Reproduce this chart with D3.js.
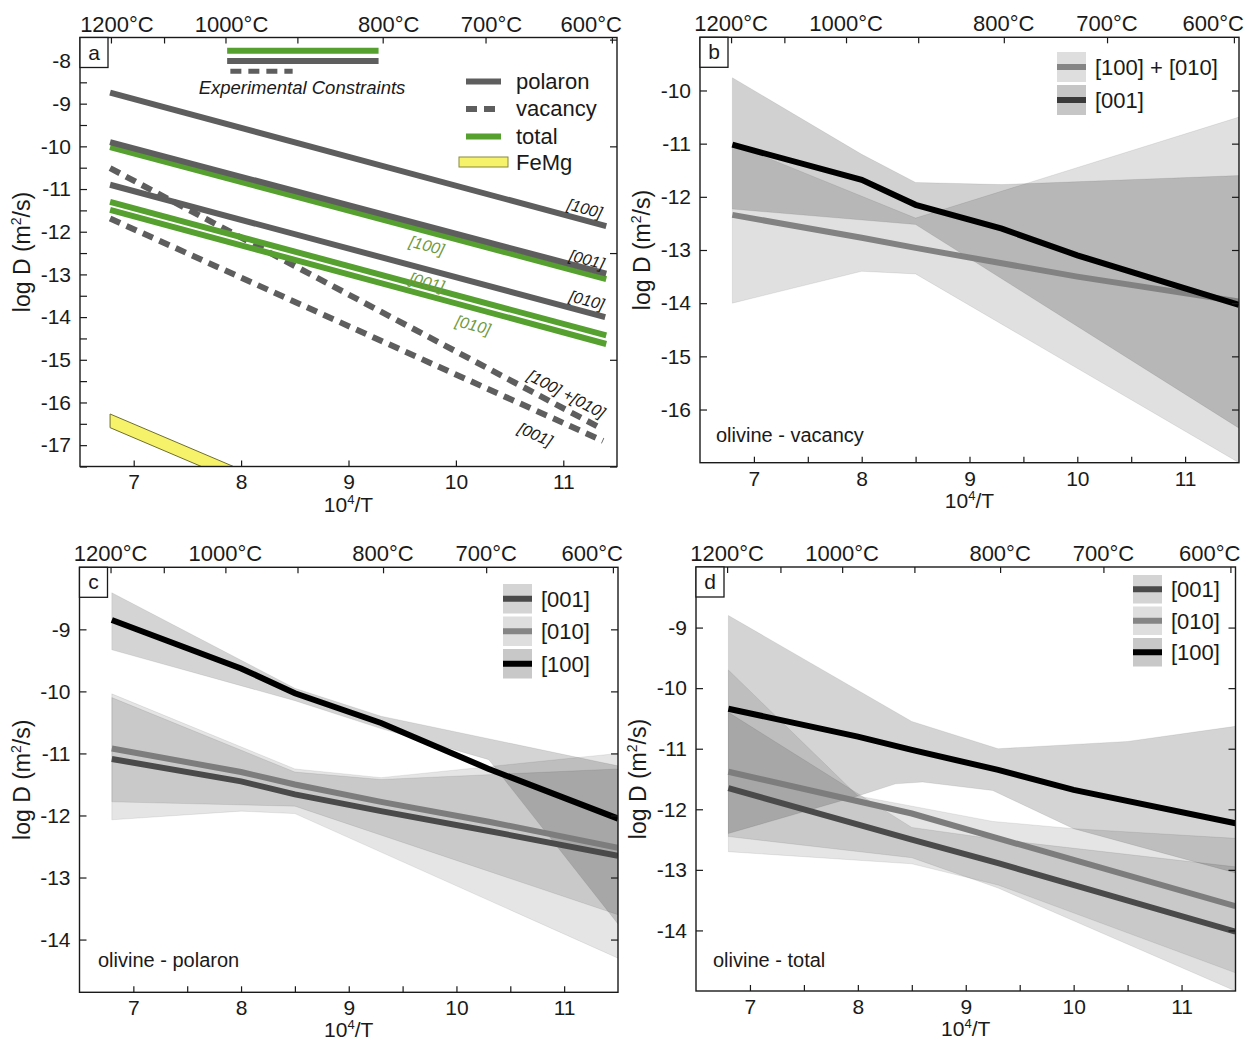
<!DOCTYPE html>
<html>
<head>
<meta charset="utf-8">
<script src="https://cdn.jsdelivr.net/npm/d3@7"></script>
<style>
  body { margin: 0; background: #fff; }
  svg { font-family: "Liberation Sans", Arial, Helvetica, sans-serif; }
</style>
</head>
<body>
<svg id="chart" width="1246" height="1042"></svg>
<script>
// x = 10^4/T (K), y = log D (m^2/s)
const tempTicks = [1200, 1100, 1000, 900, 800, 700, 600];
const tempLabels = [1200, 1000, 800, 700, 600];
const invTTicks = [7, 8, 9, 10, 11];
const invTMinor = [7.5, 8.5, 9.5, 10.5];

// ---- panel a : model lines
const polaron100 = [[6.78, -8.74], [11.4, -11.87]];
const polaron001 = [[6.78, -9.9], [11.4, -12.98]];
const polaron010 = [[6.78, -10.9], [11.39, -14.0]];
const total100 = [[6.78, -10.02], [11.4, -13.11]];
const total001 = [[6.78, -11.3], [11.4, -14.43]];
const total010 = [[6.78, -11.49], [11.4, -14.63]];
const vacancy100010 = [[6.78, -10.51], [11.37, -16.63]];
const vacancy001 = [[6.78, -11.69], [11.37, -16.9]];
const femgUpper = [[6.78, -16.27], [8.2, -17.79]];
const femgLower = [[6.78, -16.59], [8.2, -18.11]];
// experimental constraints (x ranges)
const expTotal = [7.87, 9.28];
const expPolaron = [7.87, 9.28];
const expVacancy = [7.9, 8.48];

// ---- panel b : vacancy
const bBand100010Upper = [[6.8, -11.0], [8.5, -12.4], [11.5, -10.5]];
const bBand100010Lower = [[6.8, -14.0], [8.0, -13.4], [8.5, -13.45], [11.5, -17.0]];
const bBand001Upper = [[6.8, -9.76], [8.0, -11.2], [8.5, -11.73], [9.3, -11.77], [11.5, -11.6]];
const bBand001Lower = [[6.8, -12.23], [8.5, -12.52], [11.5, -16.35]];
const bLine100010 = [[6.8, -12.34], [8.0, -12.77], [8.5, -12.96], [9.3, -13.25], [10.0, -13.5], [11.5, -13.97]];
const bLine001 = [[6.8, -11.02], [8.0, -11.68], [8.5, -12.15], [9.3, -12.6], [10.0, -13.1], [11.5, -14.03]];

// ---- panel c : polaron
const cBand100Upper = [[6.8, -8.41], [8.5, -9.95], [9.3, -10.4], [11.5, -11.2]];
const cBand100Lower = [[6.8, -9.33], [8.5, -10.15], [9.3, -10.6], [10.3, -11.1], [11.5, -13.75]];
const cBand010Upper = [[6.8, -10.04], [8.5, -11.25], [9.3, -11.39], [11.5, -11.0]];
const cBand010Lower = [[6.8, -12.07], [8.0, -11.93], [8.5, -11.97], [11.5, -14.3]];
const cBand001Upper = [[6.8, -10.1], [8.5, -11.3], [9.3, -11.42], [11.5, -11.25]];
const cBand001Lower = [[6.8, -11.78], [8.5, -11.85], [11.5, -13.6]];
const cLine100 = [[6.8, -8.85], [8.0, -9.63], [8.5, -10.03], [9.3, -10.51], [10.3, -11.25], [11.5, -12.05]];
const cLine010 = [[6.8, -10.92], [8.0, -11.3], [8.5, -11.5], [9.3, -11.78], [10.3, -12.1], [11.5, -12.52]];
const cLine001 = [[6.8, -11.09], [8.0, -11.45], [8.5, -11.66], [9.3, -11.93], [10.3, -12.25], [11.5, -12.65]];

// ---- panel d : total
const dBand100Upper = [[6.8, -8.8], [8.5, -10.55], [9.3, -11.0], [10.5, -10.88], [11.5, -10.63]];
const dBand100Lower = [[6.8, -12.4], [8.0, -11.78], [8.35, -11.58], [8.6, -11.55], [9.25, -11.69], [10.0, -12.32], [11.5, -13.05]];
const dBand010Upper = [[6.8, -9.7], [8.0, -11.78], [9.25, -12.2], [10.0, -12.32], [11.5, -12.48]];
const dBand010Lower = [[6.8, -12.7], [8.5, -12.9], [9.3, -13.25], [11.5, -14.7]];
const dBand001Upper = [[6.8, -10.4], [8.5, -12.3], [9.3, -12.5], [11.5, -12.95]];
const dBand001Lower = [[6.8, -12.45], [8.5, -12.8], [9.3, -13.3], [11.5, -15.0]];
const dLine100 = [[6.8, -10.34], [8.0, -10.8], [8.5, -11.02], [9.3, -11.35], [10.0, -11.68], [11.5, -12.23]];
const dLine010 = [[6.8, -11.38], [8.5, -12.07], [9.3, -12.48], [11.5, -13.6]];
const dLine001 = [[6.8, -11.65], [8.5, -12.5], [9.3, -12.89], [11.5, -14.02]];

const GRAY = "#5e5e5e";
const GREEN = "#55a02f";
const GREEN_TXT = "#6f9a3c";
const INK = "#1a1a1a";

const svg = d3.select("#chart");

function setupPanel(p) {
  const x = d3.scaleLinear().domain([6.5, 11.5]).range([p.left, p.right]);
  const y = d3.scaleLinear().domain(p.yDomain).range([p.bottom, p.top]);
  const g = svg.append("g");
  const clipId = "clip-" + p.letter;
  g.append("clipPath").attr("id", clipId).append("rect")
    .attr("x", p.left).attr("y", p.top)
    .attr("width", p.right - p.left).attr("height", p.bottom - p.top);
  const plot = g.append("g").attr("clip-path", `url(#${clipId})`);
  return { x, y, g, plot };
}

function lineGen(x, y) {
  return d3.line().x(d => x(d[0])).y(d => y(d[1]));
}

function drawBand(plot, x, y, upper, lower, opacity) {
  const pts = upper.concat(lower.slice().reverse());
  plot.append("path")
    .attr("d", lineGen(x, y)(pts) + "Z")
    .attr("fill", "#000")
    .attr("fill-opacity", opacity)
    .attr("stroke", "#000")
    .attr("stroke-opacity", 0.1)
    .attr("stroke-width", 0.8);
}

function drawLine(plot, x, y, data, color, width, dash) {
  plot.append("path")
    .attr("d", lineGen(x, y)(data))
    .attr("fill", "none")
    .attr("stroke", color)
    .attr("stroke-width", width)
    .attr("stroke-dasharray", dash || null);
}

const plain = d => String(d); // hyphen minus, like the original figure

function drawAxes(p, x, y, g) {
  const fontSize = 21;
  // bottom
  g.append("g").attr("transform", `translate(0,${p.bottom})`)
    .call(d3.axisBottom(x).tickValues(invTTicks).tickSizeInner(-6).tickSizeOuter(0)
      .tickPadding(8).tickFormat(plain));
  if (p.xMinor) {
    g.append("g").attr("transform", `translate(0,${p.bottom})`)
      .call(d3.axisBottom(x).tickValues(invTMinor).tickSizeInner(-6).tickSizeOuter(0).tickFormat(""));
  }
  // top (temperature)
  g.append("g").attr("transform", `translate(0,${p.top})`)
    .call(d3.axisTop(x).tickValues(tempTicks.map(t => 1e4 / (t + 273.15)))
      .tickSizeInner(-6).tickSizeOuter(0).tickFormat(""));
  tempLabels.forEach(t => {
    const tx = x(1e4 / (t + 273.15)) + (p.topShift || 0);
    const txt = g.append("text")
      .attr("x", tx).attr("y", p.top - 6)
      .attr("text-anchor", "middle")
      .attr("font-size", 22).attr("fill", INK)
      .text(t + "°C");
    const w = txt.node().getComputedTextLength();
    if (tx + w / 2 > p.right + 5) txt.attr("x", p.right + 5 - w / 2);
  });
  // left
  g.append("g").attr("transform", `translate(${p.left},0)`)
    .call(d3.axisLeft(y).tickValues(p.yLabels).tickSizeInner(-7).tickSizeOuter(0)
      .tickPadding(9).tickFormat(plain));
  if (p.yMinor) {
    g.append("g").attr("transform", `translate(${p.left},0)`)
      .call(d3.axisLeft(y).tickValues(p.yMinor).tickSizeInner(-7).tickSizeOuter(0).tickFormat(""));
  }
  // right
  g.append("g").attr("transform", `translate(${p.right},0)`)
    .call(d3.axisRight(y).tickValues(p.yRight).tickSizeInner(-7).tickSizeOuter(0).tickFormat(""));

  g.selectAll(".domain").remove();
  g.selectAll(".tick line").attr("stroke", INK).attr("stroke-width", 1.2);
  g.selectAll(".tick text").attr("font-size", fontSize).attr("fill", INK)
    .attr("font-family", "Liberation Sans, Arial, sans-serif");

  // frame
  g.append("rect")
    .attr("x", p.left).attr("y", p.top)
    .attr("width", p.right - p.left).attr("height", p.bottom - p.top)
    .attr("fill", "none").attr("stroke", INK).attr("stroke-width", 1.4);

  // panel letter box
  g.append("rect")
    .attr("x", p.left).attr("y", p.top).attr("width", 28).attr("height", 30)
    .attr("fill", "#fff").attr("stroke", INK).attr("stroke-width", 1.3);
  g.append("text")
    .attr("x", p.left + 14).attr("y", p.top + 22)
    .attr("text-anchor", "middle").attr("font-size", 21).attr("fill", INK)
    .text(p.letter);

  // axis titles
  const xt = g.append("text")
    .attr("x", (p.left + p.right) / 2).attr("y", p.bottom + 45)
    .attr("text-anchor", "middle").attr("font-size", 21).attr("fill", INK);
  xt.append("tspan").text("10");
  xt.append("tspan").attr("font-size", 13).attr("dy", -8).text("4");
  xt.append("tspan").attr("dy", 8).text("/T");

  const yt = g.append("text")
    .attr("transform", `translate(${p.left - 50},${(p.top + p.bottom) / 2}) rotate(-90)`)
    .attr("text-anchor", "middle").attr("font-size", 23).attr("fill", INK);
  yt.append("tspan").text("log D (m");
  yt.append("tspan").attr("font-size", 14).attr("dy", -9).text("2");
  yt.append("tspan").attr("dy", 9).text("/s)");
}

function drawSwatchLegend(g, items, x0, y0, rowH) {
  items.forEach((it, i) => {
    const yy = y0 + i * rowH;
    g.append("rect")
      .attr("x", x0).attr("y", yy).attr("width", 29).attr("height", rowH - 3)
      .attr("fill", it.fill);
    g.append("line")
      .attr("x1", x0).attr("x2", x0 + 29)
      .attr("y1", yy + (rowH - 3) / 2).attr("y2", yy + (rowH - 3) / 2)
      .attr("stroke", it.color).attr("stroke-width", 6);
    g.append("text")
      .attr("x", x0 + 38).attr("y", yy + (rowH - 3) / 2 + 8)
      .attr("font-size", 22).attr("fill", INK)
      .text(it.label);
  });
}

function interpY(line, xv) {
  const a = line[0], b = line[line.length - 1];
  return a[1] + (xv - a[0]) / (b[0] - a[0]) * (b[1] - a[1]);
}

// ================= panel a =================
(function () {
  const p = {
    letter: "a", left: 80, right: 617, top: 37.5, bottom: 466.5,
    yDomain: [-17.5, -7.45],
    yLabels: d3.range(-8, -17.5, -1),
    yMinor: d3.range(-8.5, -17.6, -1),
    yRight: [-7.5, -10, -12.5, -15, -17.5],
    xMinor: false,
    topShift: 6
  };
  const { x, y, g, plot } = setupPanel(p);

  // FeMg band
  plot.append("path")
    .attr("d", lineGen(x, y)(femgUpper.concat(femgLower.slice().reverse())) + "Z")
    .attr("fill", "#f6f26a").attr("stroke", "#6e6e2c").attr("stroke-width", 1);

  const dash = "11,7";
  drawLine(plot, x, y, vacancy100010, GRAY, 6, dash);
  drawLine(plot, x, y, vacancy001, GRAY, 6, dash);
  drawLine(plot, x, y, total100, GREEN, 6);
  drawLine(plot, x, y, total001, GREEN, 6);
  drawLine(plot, x, y, total010, GREEN, 6);
  drawLine(plot, x, y, polaron100, GRAY, 6);
  drawLine(plot, x, y, polaron001, GRAY, 6);
  drawLine(plot, x, y, polaron010, GRAY, 6);

  // line labels
  const labels = [
    { text: "[100]", line: polaron100, at: 11.2, dy: -12, color: INK },
    { text: "[001]", line: polaron001, at: 11.22, dy: -9, color: INK },
    { text: "[010]", line: polaron010, at: 11.22, dy: -12, color: INK },
    { text: "[100]", line: total100, at: 9.73, dy: 14, color: GREEN_TXT },
    { text: "[001]", line: total001, at: 9.73, dy: -5, color: GREEN_TXT },
    { text: "[010]", line: total010, at: 10.16, dy: 17, color: GREEN_TXT },
    { text: "[100] +[010]", line: vacancy100010, at: 11.03, dy: -16, color: INK },
    { text: "[001]", line: vacancy001, at: 10.74, dy: 24, color: INK }
  ];
  labels.forEach(l => {
    const a = l.line[0], b = l.line[1];
    const ang = Math.atan2(y(b[1]) - y(a[1]), x(b[0]) - x(a[0])) * 180 / Math.PI;
    const px = x(l.at), py = y(interpY(l.line, l.at)) + l.dy;
    g.append("text")
      .attr("transform", `translate(${px},${py}) rotate(${ang})`)
      .attr("text-anchor", "middle").attr("dy", "0.35em")
      .attr("font-size", 16).attr("font-style", "italic").attr("fill", l.color)
      .text(l.text);
  });

  // experimental constraints
  g.append("line").attr("x1", x(expTotal[0])).attr("x2", x(expTotal[1]))
    .attr("y1", y(-7.76)).attr("y2", y(-7.76)).attr("stroke", GREEN).attr("stroke-width", 6);
  g.append("line").attr("x1", x(expPolaron[0])).attr("x2", x(expPolaron[1]))
    .attr("y1", y(-8.0)).attr("y2", y(-8.0)).attr("stroke", GRAY).attr("stroke-width", 6);
  g.append("line").attr("x1", x(expVacancy[0])).attr("x2", x(expVacancy[1]))
    .attr("y1", y(-8.24)).attr("y2", y(-8.24)).attr("stroke", GRAY).attr("stroke-width", 5)
    .attr("stroke-dasharray", "11,7");
  g.append("text")
    .attr("x", 302).attr("y", 94).attr("text-anchor", "middle")
    .attr("font-size", 18.5).attr("font-style", "italic").attr("fill", INK)
    .text("Experimental Constraints");

  // legend
  const leg = [
    { label: "polaron", color: GRAY, dash: null },
    { label: "vacancy", color: GRAY, dash: "11,7" },
    { label: "total", color: GREEN, dash: null }
  ];
  leg.forEach((l, i) => {
    const yy = 81.5 + i * 27.5;
    g.append("line").attr("x1", 466).attr("x2", 501).attr("y1", yy).attr("y2", yy)
      .attr("stroke", l.color).attr("stroke-width", 6).attr("stroke-dasharray", l.dash);
    g.append("text").attr("x", 516).attr("y", yy + 7).attr("font-size", 22).attr("fill", INK)
      .text(l.label);
  });
  g.append("rect").attr("x", 459).attr("y", 157).attr("width", 49).attr("height", 10)
    .attr("fill", "#f6f26a").attr("stroke", "#8a8a3a").attr("stroke-width", 1);
  g.append("text").attr("x", 516).attr("y", 170).attr("font-size", 22).attr("fill", INK)
    .text("FeMg");

  drawAxes(p, x, y, g);
})();

// ================= panel b =================
(function () {
  const p = {
    letter: "b", left: 700, right: 1239, top: 37.3, bottom: 462.7,
    yDomain: [-17, -9],
    yLabels: d3.range(-10, -16.5, -1),
    yMinor: null,
    yRight: d3.range(-10, -16.5, -1),
    xMinor: true
  };
  const { x, y, g, plot } = setupPanel(p);
  drawBand(plot, x, y, bBand100010Upper, bBand100010Lower, 0.12);
  drawBand(plot, x, y, bBand001Upper, bBand001Lower, 0.18);
  drawLine(plot, x, y, bLine100010, "#828282", 6);
  drawLine(plot, x, y, bLine001, "#000", 6);
  g.append("text").attr("x", 716).attr("y", 442).attr("font-size", 20).attr("fill", INK)
    .text("olivine - vacancy");
  drawSwatchLegend(g, [
    { label: "[100] + [010]", fill: "#dedede", color: "#858585" },
    { label: "[001]", fill: "#c6c6c6", color: "#3a3a3a" }
  ], 1057, 52, 33);
  drawAxes(p, x, y, g);
})();

// ================= panel c =================
(function () {
  const p = {
    letter: "c", left: 79.5, right: 618, top: 567.3, bottom: 992.3,
    yDomain: [-14.85, -8],
    yLabels: d3.range(-9, -14.5, -1),
    yMinor: null,
    yRight: d3.range(-9, -14.5, -1),
    xMinor: true
  };
  const { x, y, g, plot } = setupPanel(p);
  drawBand(plot, x, y, cBand010Upper, cBand010Lower, 0.1);
  drawBand(plot, x, y, cBand001Upper, cBand001Lower, 0.12);
  drawBand(plot, x, y, cBand100Upper, cBand100Lower, 0.17);
  drawLine(plot, x, y, cLine010, "#7d7d7d", 6);
  drawLine(plot, x, y, cLine001, "#4a4a4a", 6);
  drawLine(plot, x, y, cLine100, "#000", 6);
  g.append("text").attr("x", 98).attr("y", 967).attr("font-size", 20).attr("fill", INK)
    .text("olivine - polaron");
  drawSwatchLegend(g, [
    { label: "[001]", fill: "#d4d4d4", color: "#4a4a4a" },
    { label: "[010]", fill: "#dedede", color: "#858585" },
    { label: "[100]", fill: "#c8c8c8", color: "#000" }
  ], 503, 584, 32.5);
  drawAxes(p, x, y, g);
})();

// ================= panel d =================
(function () {
  const p = {
    letter: "d", left: 696, right: 1235.5, top: 567, bottom: 991,
    yDomain: [-15, -8],
    yLabels: d3.range(-9, -14.5, -1),
    yMinor: null,
    yRight: d3.range(-9, -14.5, -1),
    xMinor: true
  };
  const { x, y, g, plot } = setupPanel(p);
  drawBand(plot, x, y, dBand010Upper, dBand010Lower, 0.1);
  drawBand(plot, x, y, dBand001Upper, dBand001Lower, 0.12);
  drawBand(plot, x, y, dBand100Upper, dBand100Lower, 0.17);
  drawLine(plot, x, y, dLine010, "#7d7d7d", 6);
  drawLine(plot, x, y, dLine001, "#4a4a4a", 6);
  drawLine(plot, x, y, dLine100, "#000", 6);
  g.append("text").attr("x", 713).attr("y", 967).attr("font-size", 20).attr("fill", INK)
    .text("olivine - total");
  drawSwatchLegend(g, [
    { label: "[001]", fill: "#d4d4d4", color: "#4a4a4a" },
    { label: "[010]", fill: "#dedede", color: "#858585" },
    { label: "[100]", fill: "#c8c8c8", color: "#000" }
  ], 1133, 575, 31.5);
  drawAxes(p, x, y, g);
})();
</script>
</body>
</html>
